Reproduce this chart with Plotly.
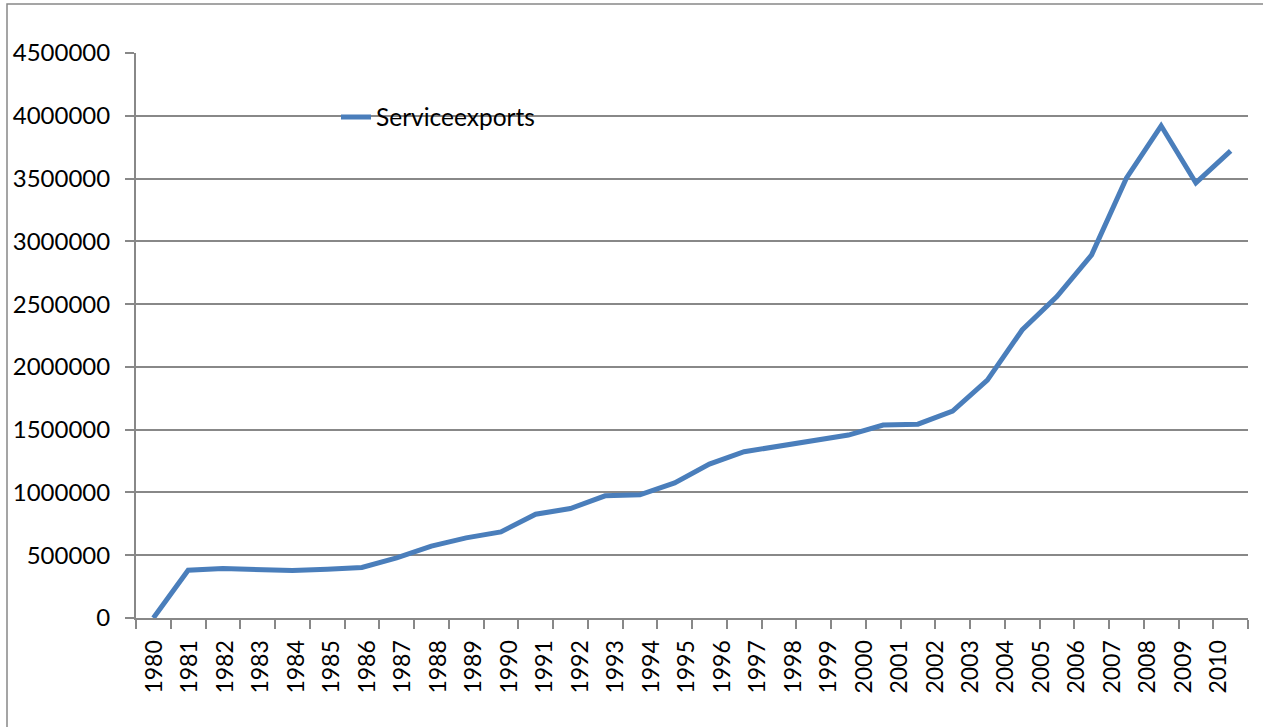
import plotly.graph_objects as go

# ---- data ----
point_index = list(range(32))          # 32 plotted points along the category axis
service_exports = [
    0, 380000, 394000, 388000, 378000, 388000, 402000, 478000,
    572000, 638000, 686000, 827000, 872000, 973000, 981000, 1076000,
    1226000, 1324000, 1371000, 1411000, 1457000, 1537000, 1544000, 1648000,
    1895000, 2294000, 2560000, 2892000, 3503000, 3920000, 3465000, 3721000,
]
year_labels = [str(y) for y in range(1980, 2011)]
y_ticks = list(range(0, 4500001, 500000))

# ---- layout geometry (pixels) ----
W, H = 1263, 727
L, R, T, B = 136, 15, 53, 109
PW, PH = W - L - R, H - T - B


def px_x(p):
    return (p - L) / PW


def px_y(p):
    return (H - B - p) / PH


GRID = "#888888"
XFONT = dict(family="Lato", size=23, color="#000000")
YFONT = dict(family="Lato", size=24, color="#000000")
LFONT = dict(family="Lato", size=24.5, color="#000000")

# label positions as drawn in the reference (slightly wider spacing than the categories)
label_pos = [0.0325 + 1.021 * k for k in range(len(year_labels))]

fig = go.Figure()
fig.add_trace(go.Scatter(
    x=point_index, y=service_exports, mode="lines", name="Serviceexports",
    line=dict(color="#4A7EBB", width=5),
))

fig.update_layout(
    width=W, height=H,
    margin=dict(l=L, r=R, t=T, b=B, pad=0),
    paper_bgcolor="white", plot_bgcolor="white",
    font=XFONT,
    showlegend=True,
    legend=dict(
        x=px_x(336), y=px_y(117), xanchor="left", yanchor="middle",
        bgcolor="rgba(0,0,0,0)", font=LFONT,
    ),
    xaxis=dict(
        range=[-0.5, 31.5], showgrid=False, zeroline=False,
        showline=True, linecolor=GRID, linewidth=2,
        tickmode="array", tickvals=label_pos, ticktext=year_labels,
        ticks="", tickangle=-90, tickfont=XFONT, ticklabelstandoff=11,
        minor=dict(tickmode="linear", tick0=-0.5, dtick=1, ticks="outside",
                   ticklen=9, tickwidth=2, tickcolor=GRID, showgrid=False),
    ),
    yaxis=dict(
        range=[0, 4500000], tickmode="array", tickvals=y_ticks,
        ticktext=[str(v) for v in y_ticks],
        showgrid=True, gridcolor=GRID, gridwidth=2, zeroline=False,
        showline=True, linecolor=GRID, linewidth=2,
        ticks="outside", ticklen=9, tickwidth=2, tickcolor=GRID,
        tickfont=YFONT, ticklabelstandoff=10,
    ),
    shapes=[
        # white legend box that interrupts the gridlines
        dict(type="rect", xref="paper", yref="paper",
             x0=px_x(265), x1=px_x(595), y0=px_y(178.5), y1=px_y(57),
             fillcolor="white", line=dict(width=0), layer="between"),
        # outer chart frame (only left and top edges are inside the picture)
        dict(type="rect", xref="paper", yref="paper",
             x0=px_x(7), x1=px_x(1300), y0=px_y(800), y1=px_y(4),
             fillcolor="rgba(0,0,0,0)", line=dict(color=GRID, width=1.5),
             layer="above"),
    ],
)

fig.write_html("out.html")
